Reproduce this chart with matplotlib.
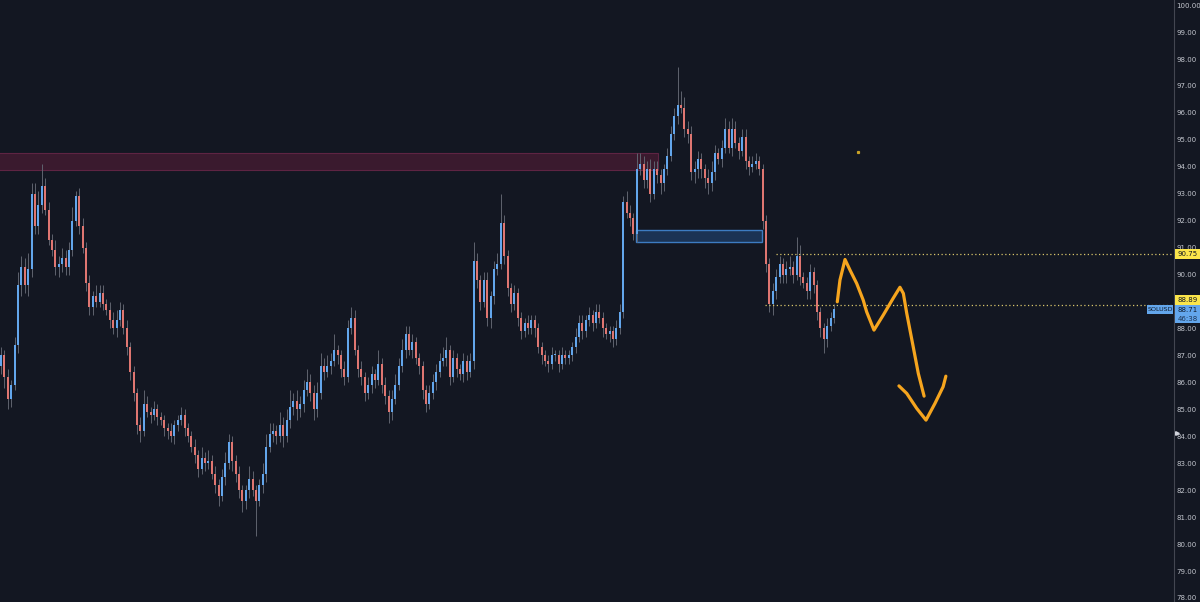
import matplotlib
matplotlib.use("Agg")
import matplotlib.pyplot as plt
from matplotlib.patches import Rectangle
from matplotlib.transforms import blended_transform_factory
import numpy as np

# SOLUSD candles (close of each bar, open = previous close)
first_open = 86.6
closes = [
    87.0, 86.2, 85.4, 85.9, 87.4, 89.6, 90.3, 89.6, 90.2, 93.0,
    91.8, 92.6, 93.3, 92.4, 91.3, 90.9, 90.3, 90.4, 90.6, 90.3,
    90.9, 92.0, 92.9, 91.8, 91.0, 89.7, 88.8, 89.2, 89.0, 89.3,
    88.9, 88.7, 88.3, 88.0, 88.3, 88.7, 88.0, 87.3, 86.4, 85.6,
    84.4, 84.2, 85.2, 84.9, 84.8, 85.0, 84.7, 84.6, 84.3, 84.2,
    84.0, 84.4, 84.6, 84.8, 84.3, 84.0, 83.6, 83.3, 82.8, 83.2,
    83.0, 83.1, 82.6, 82.2, 81.8, 82.5, 83.0, 83.8, 83.1, 82.6,
    82.0, 81.6, 82.0, 82.4, 82.0, 81.6, 82.2, 82.6, 83.6, 84.1,
    84.2, 84.0, 84.4, 84.0, 84.6, 85.1, 85.3, 85.0, 85.2, 85.7,
    86.0, 85.6, 85.0, 85.6, 86.6, 86.4, 86.6, 86.8, 87.2, 87.0,
    86.5, 86.2, 88.0, 88.4, 87.2, 86.5, 86.2, 85.6, 85.9, 86.3,
    86.1, 86.7, 85.9, 85.5, 84.9, 85.4, 85.9, 86.6, 87.2, 87.8,
    87.2, 87.5, 86.9, 86.6, 85.7, 85.2, 85.6, 86.0, 86.4, 86.8,
    86.9, 87.2, 86.2, 86.9, 86.5, 86.3, 86.8, 86.4, 86.8, 90.5,
    89.8, 89.0, 89.8, 88.4, 89.2, 90.2, 90.4, 91.9, 90.7, 89.5,
    88.9, 89.3, 88.4, 87.9, 88.2, 88.0, 88.3, 88.0, 87.3, 87.0,
    86.8, 86.7, 87.0, 87.0, 86.7, 87.0, 86.9, 87.0, 87.3, 87.7,
    88.2, 87.9, 88.3, 88.5, 88.2, 88.6, 88.4, 88.0, 87.8, 87.9,
    87.6, 88.0, 88.6, 92.7, 92.3, 92.1, 91.5, 93.9, 94.1, 93.5,
    93.9, 93.0, 93.9, 93.7, 93.4, 93.9, 94.4, 95.2, 95.9, 96.3,
    96.2, 95.4, 95.2, 93.8, 93.9, 94.3, 93.9, 93.6, 93.4, 93.8,
    94.5, 94.3, 94.7, 95.4, 94.7, 95.4, 94.9, 94.6, 95.1, 94.2,
    94.0, 94.1, 94.2, 93.9, 92.0, 90.4, 88.9, 89.4, 89.9, 90.4,
    90.0, 90.2, 90.3, 90.0, 90.7, 89.9, 89.7, 89.4, 90.1, 89.6,
    88.6, 88.0, 87.6, 88.1, 88.4, 88.71,
]
# wick length above body top / below body bottom
wick_up = [
    .3, .2, .3, .2, .3, .5, .4, .3, .6, .4,
    .4, .5, .8, .3, .3, .2, .4, .3, .4, .3,
    .3, .5, .2, .3, .3, .2, .3, .2, .4, .3,
    .3, .2, .3, .3, .4, .3, .2, .3, .2, .2,
    .2, .3, .5, .3, .2, .3, .2, .2, .2, .2,
    .3, .2, .2, .3, .2, .2, .2, .3, .2, .4,
    .2, .4, .2, .3, .2, .3, .4, .3, .2, .2,
    .3, .2, .2, .5, .3, .2, .2, .4, .5, .4,
    .3, .2, .5, .3, .4, .6, .3, .4, .3, .4,
    .5, .3, .3, .4, .5, .3, .4, .3, .6, .2,
    .2, .3, .3, .4, .3, .2, .3, .2, .3, .3,
    .2, .5, .2, .3, .2, .3, .4, .3, .4, .3,
    .3, .3, .2, .2, .2, .2, .3, .3, .3, .3,
    .4, .5, .2, .3, .2, .2, .3, .2, .3, .7,
    .3, .2, .3, .3, .2, .3, .4, 1.1, .3, .2,
    .2, .3, .2, .2, .2, .3, .2, .2, .2, .2,
    .2, .2, .3, .2, .2, .3, .2, .2, .2, .3,
    .3, .3, .2, .3, .2, .3, .3, .2, .2, .2,
    .2, .3, .3, .2, .4, .3, .2, .6, .4, .3,
    .3, .4, .3, .3, .2, .2, .3, .3, .3, 1.4,
    .5, .4, .3, .3, .3, .3, .2, .2, .3, .4,
    .3, .2, .3, .4, .3, .4, .3, .2, .3, .3,
    .2, .3, .3, .2, .2, .2, .2, .3, .3, .3,
    .2, .3, .4, .2, .7, .4, .2, .2, .3, .2,
    .2, .2, .2, .3, .2, .2,
]
wick_dn = [
    .3, .4, .4, .3, .2, .3, .4, .3, .4, .3,
    .3, .3, .3, .2, .2, .2, .3, .4, .3, .3,
    .3, .2, .2, .3, .2, .3, .3, .3, .2, .2,
    .2, .2, .3, .2, .3, .2, .2, .3, .3, .3,
    .3, .4, .2, .2, .3, .2, .3, .2, .3, .3,
    .2, .3, .2, .2, .3, .2, .2, .3, .3, .2,
    .3, .2, .2, .3, .4, .2, .3, .2, .4, .3,
    .3, .4, .3, .3, .2, 1.3, .2, .3, .3, .2,
    .3, .3, .2, .4, .2, .3, .3, .4, .3, .3,
    .2, .3, .4, .3, .2, .3, .2, .3, .2, .3,
    .3, .3, .2, .2, .2, .3, .3, .3, .2, .3,
    .3, .2, .3, .3, .4, .3, .2, .2, .2, .3,
    .2, .3, .2, .3, .3, .3, .2, .2, .3, .2,
    .2, .3, .3, .2, .3, .2, .3, .3, .2, .3,
    .3, .3, .2, .3, .4, .3, .2, .2, .3, .3,
    .3, .2, .3, .3, .2, .2, .2, .3, .2, .3,
    .2, .3, .2, .2, .3, .2, .2, .2, .2, .2,
    .2, .3, .2, .2, .3, .2, .2, .3, .2, .3,
    .3, .2, .2, .2, .2, .3, .2, .3, .2, .3,
    .3, .3, .2, .3, .4, .3, .2, .2, .2, .3,
    .2, .3, .3, .3, .4, .3, .3, .4, .4, .3,
    .3, .2, .3, .2, .2, .3, .2, .3, .2, .3,
    .3, .2, .2, .2, .3, .3, .3, .4, .3, .2,
    .3, .3, .2, .3, .2, .3, .2, .3, .3, .3,
    .3, .3, .5, .3, .2, .2,
]

# zones and levels
supply_zone = (93.88, 94.51)
supply_end = 193.2
demand_zone = (91.21, 91.65)
demand_span = (186.8, 223.8)
level_high, level_high_start = 90.75, 228.0
level_low, level_low_start = 88.89, 224.7
last_price = 88.71
countdown = "46:38"

# hand-drawn projection (bar index, price)
draw_x = [245.97, 246.76, 248.24, 249.7, 251.68, 253.6, 254.6, 256.76, 259.5,
          262.4, 264.4, 265.4, 266.4, 268.3, 269.8, 271.5]
draw_y = [88.99, 89.80, 90.56, 90.17, 89.67, 89.05, 88.62, 87.94, 88.50,
          89.12, 89.53, 89.30, 88.56, 87.32, 86.33, 85.49]
head_x = [264.1, 266.4, 269.3, 272.06, 274.7, 277.1, 277.9]
head_y = [85.87, 85.59, 85.04, 84.60, 85.22, 85.84, 86.23]

bg = "#131722"
up_col = "#63a6ec"
dn_col = "#df7671"

fig = plt.figure(figsize=(12, 6.02), dpi=100, facecolor=bg)
ax = fig.add_axes([0, 0, 1174 / 1200, 1], facecolor=bg)

closes_a = np.array(closes)
opens_a = np.array([first_open] + closes[:-1])
xs = np.arange(len(closes))
tops = np.maximum(opens_a, closes_a)
bots = np.minimum(opens_a, closes_a)
highs = tops + np.array(wick_up)
lows = bots - np.array(wick_dn)
colors = [up_col if c >= o else dn_col for o, c in zip(opens_a, closes_a)]

ax.vlines(xs, lows, highs, color="#5f636e", linewidth=0.7, zorder=2)
ax.bar(xs, np.maximum(tops - bots, 0.04), bottom=bots, width=0.62,
       color=colors, linewidth=0, zorder=3)

# zones
ax.add_patch(Rectangle((-2, supply_zone[0]), supply_end + 2, supply_zone[1] - supply_zone[0],
                       facecolor="#3a1a2e", edgecolor="#5e2443", linewidth=0.8, zorder=1))
ax.add_patch(Rectangle((demand_span[0], demand_zone[0]), demand_span[1] - demand_span[0],
                       demand_zone[1] - demand_zone[0],
                       facecolor="#1b3354", edgecolor="#3d7cc2", linewidth=1.0, zorder=1))

xmax = 345.0
ax.hlines(level_high, level_high_start, xmax, colors="#d8c56a", linestyles=(0, (1, 2)),
          linewidth=0.9, zorder=4)
ax.hlines(level_low, level_low_start, xmax, colors="#d8c56a", linestyles=(0, (1, 2)),
          linewidth=0.9, zorder=4)

ax.plot(draw_x, draw_y, color="#f6a51e", lw=2.3, solid_capstyle="round",
        solid_joinstyle="round", zorder=5)
ax.plot(head_x, head_y, color="#f6a51e", lw=2.3, solid_capstyle="round",
        solid_joinstyle="round", zorder=5)
ax.plot([252], [94.55], "s", ms=1.3, color="#c9a227", zorder=5)

ax.set_xlim(-0.29, xmax)
ax.set_ylim(77.85, 100.19)
ax.set_xticks([])
ax.yaxis.tick_right()
ticks = np.arange(78, 101)
ax.set_yticks(ticks)
ax.set_yticklabels([f"{t:.2f}" for t in ticks])
ax.tick_params(axis="y", length=0, pad=1.6, labelsize=5.0, labelcolor="#c3c6ce")
for s in ["top", "left", "bottom"]:
    ax.spines[s].set_visible(False)
ax.spines["right"].set_color("#434651")
ax.spines["right"].set_linewidth(0.8)

# price labels on the scale
tr = blended_transform_factory(fig.transFigure, ax.transData)
px = 26.95  # pixels per price unit
fs = 5.0


def tag(y0, y1, x0, x1, face):
    ax.add_patch(Rectangle((x0 / 1200, y0), (x1 - x0) / 1200, y1 - y0, transform=tr,
                           facecolor=face, edgecolor="none", clip_on=False, zorder=10))


tag(level_high - 5 / px, level_high + 5 / px, 1175, 1200, "#fbe54a")
ax.text(1187.5 / 1200, level_high, f"{level_high:.2f}", transform=tr, ha="center",
        va="center", fontsize=fs, color="#131722", zorder=11, clip_on=False)
y_tag = 89.05
tag(y_tag - 5 / px, y_tag + 5 / px, 1175, 1200, "#fbe54a")
ax.text(1187.5 / 1200, y_tag, f"{level_low:.2f}", transform=tr, ha="center",
        va="center", fontsize=fs, color="#131722", zorder=11, clip_on=False)
tag(88.20, 88.865, 1175, 1200, "#63a6ec")
ax.text(1187.5 / 1200, 88.70, f"{last_price:.2f}", transform=tr, ha="center",
        va="center", fontsize=fs, color="#0f1a2b", zorder=11, clip_on=False)
ax.text(1187.5 / 1200, 88.37, countdown, transform=tr, ha="center",
        va="center", fontsize=fs, color="#1d3556", zorder=11, clip_on=False)
tag(88.53, 88.865, 1147, 1173, "#63a6ec")
ax.text(1160 / 1200, 88.70, "SOLUSD", transform=tr, ha="center",
        va="center", fontsize=4.6, color="#0f1a2b", zorder=11, clip_on=False)
ax.plot([1176.5 / 1200], [84.12], marker=">", ms=2.6, color="#d1d4dc", transform=tr,
        clip_on=False, zorder=11)

fig.savefig("out.png", dpi=100, facecolor=bg)
